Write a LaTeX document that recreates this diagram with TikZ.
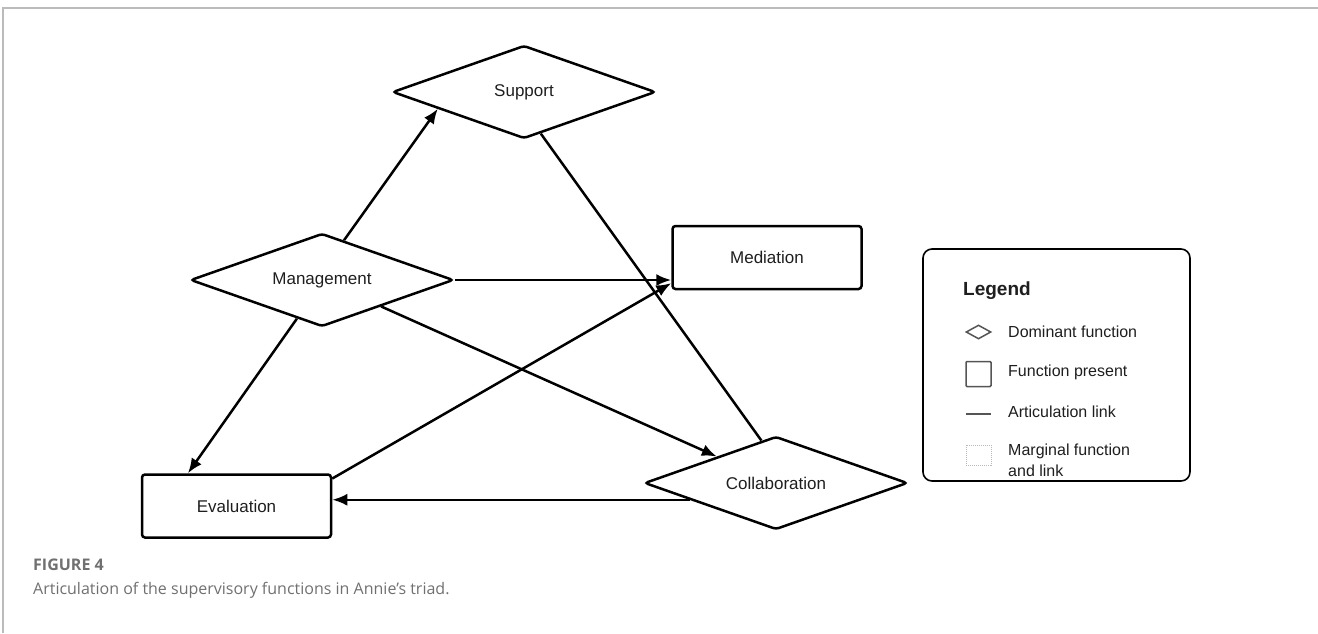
\documentclass[tikz,border=0pt]{standalone}
\usepackage{fontspec}
\setmainfont{Liberation Sans}
\newfontfamily\capfont{Open Sans}
\usetikzlibrary{arrows.meta,shapes.geometric}

\definecolor{framegray}{HTML}{BBBBBB}
\definecolor{capgray}{HTML}{707070}
\definecolor{inkgray}{HTML}{1E1E1E}
\definecolor{keygray}{HTML}{555555}

\begin{document}
\begin{tikzpicture}[x=1pt, y=-1pt,
  func/.style={draw, line width=2.5pt, rounded corners=3pt, align=center, font=\fontsize{17}{20}\selectfont, text=inkgray},
  dominant/.style={func, diamond, aspect=2.83, minimum width=263pt, minimum height=93pt, inner sep=0pt},
  present/.style={func, rectangle, minimum width=189pt, minimum height=63pt},
  link/.style={-{Latex[length=15pt, width=12pt]}, line width=2.5pt},
  bare/.style={line width=2.5pt},
  keytext/.style={anchor=west, font=\fontsize{16}{21}\selectfont, text=inkgray, align=left, inner sep=0pt}
]
\useasboundingbox (0,0) rectangle (1318,633);
% frame of the figure
\draw[framegray, line width=2pt] (3,633) -- (3,8) -- (1318,8);

% functions
\node[dominant] (sup) at (524,92) {Support};
\node[dominant] (mgmt) at (322,280) {Management};
\node[dominant] (collab) at (776,483) {Collaboration};
\node[present] (med) at (767,257.5) {Mediation};
\node[present] (eval) at (236.5,506) {Evaluation};

% articulation links
\draw[link] (mgmt.61) -- (sup.191.6);
\draw[link] (mgmt.east) -- (mgmt.east -| med.west);
\draw[link] (mgmt) -- (collab);
\draw[link] (mgmt.237.7) -- (eval.146);
\draw[link] (eval.16) -- (med.195);
\draw[bare] (sup.292.7) -- (collab.109);
\draw[link] (collab.191.6) -- (collab.191.6 -| eval.east);

% legend
\node[draw, line width=1.6pt, rounded corners=9pt, minimum width=267pt, minimum height=232pt] (legend) at (1056.5,365) {};
\node[anchor=west, inner sep=0pt, font=\fontsize{19}{22}\selectfont\bfseries, text=inkgray] (legtitle) at (963,291) {Legend};
\node[draw=keygray, line width=1.5pt, diamond, minimum width=25pt, minimum height=14pt, inner sep=0pt] (keydom) at (978.5,332) {};
\node[keytext] (keydomtext) at (1008,332) {Dominant function};
\node[draw=keygray, line width=1.5pt, rounded corners=1pt, minimum width=25pt, minimum height=25pt, inner sep=0pt] (keypres) at (978.5,374) {};
\node[keytext] (keyprestext) at (1008,372) {Function present};
\coordinate (keylinea) at (966,414);
\coordinate (keylineb) at (991,414);
\draw[keygray, line width=2pt] (keylinea) -- (keylineb);
\node[keytext] (keylinktext) at (1008,412) {Articulation link};
\node[draw=framegray, densely dotted, line width=1pt, minimum width=25pt, minimum height=20pt, inner sep=0pt] (keymarg) at (978.5,455) {};
\node[keytext] (keymargtext) at (1008,460) {Marginal function\\and link};

% caption
\node[anchor=west, inner sep=0pt, text=capgray, font=\capfont\bfseries\fontsize{16}{19}\selectfont] (figno) at (33,565) {FIGURE 4};
\node[anchor=west, inner sep=0pt, text=capgray, font=\capfont\fontsize{16}{19}\selectfont] (caption) at (33,590) {Articulation of the supervisory functions in Annie’s triad.};
\end{tikzpicture}
\end{document}
